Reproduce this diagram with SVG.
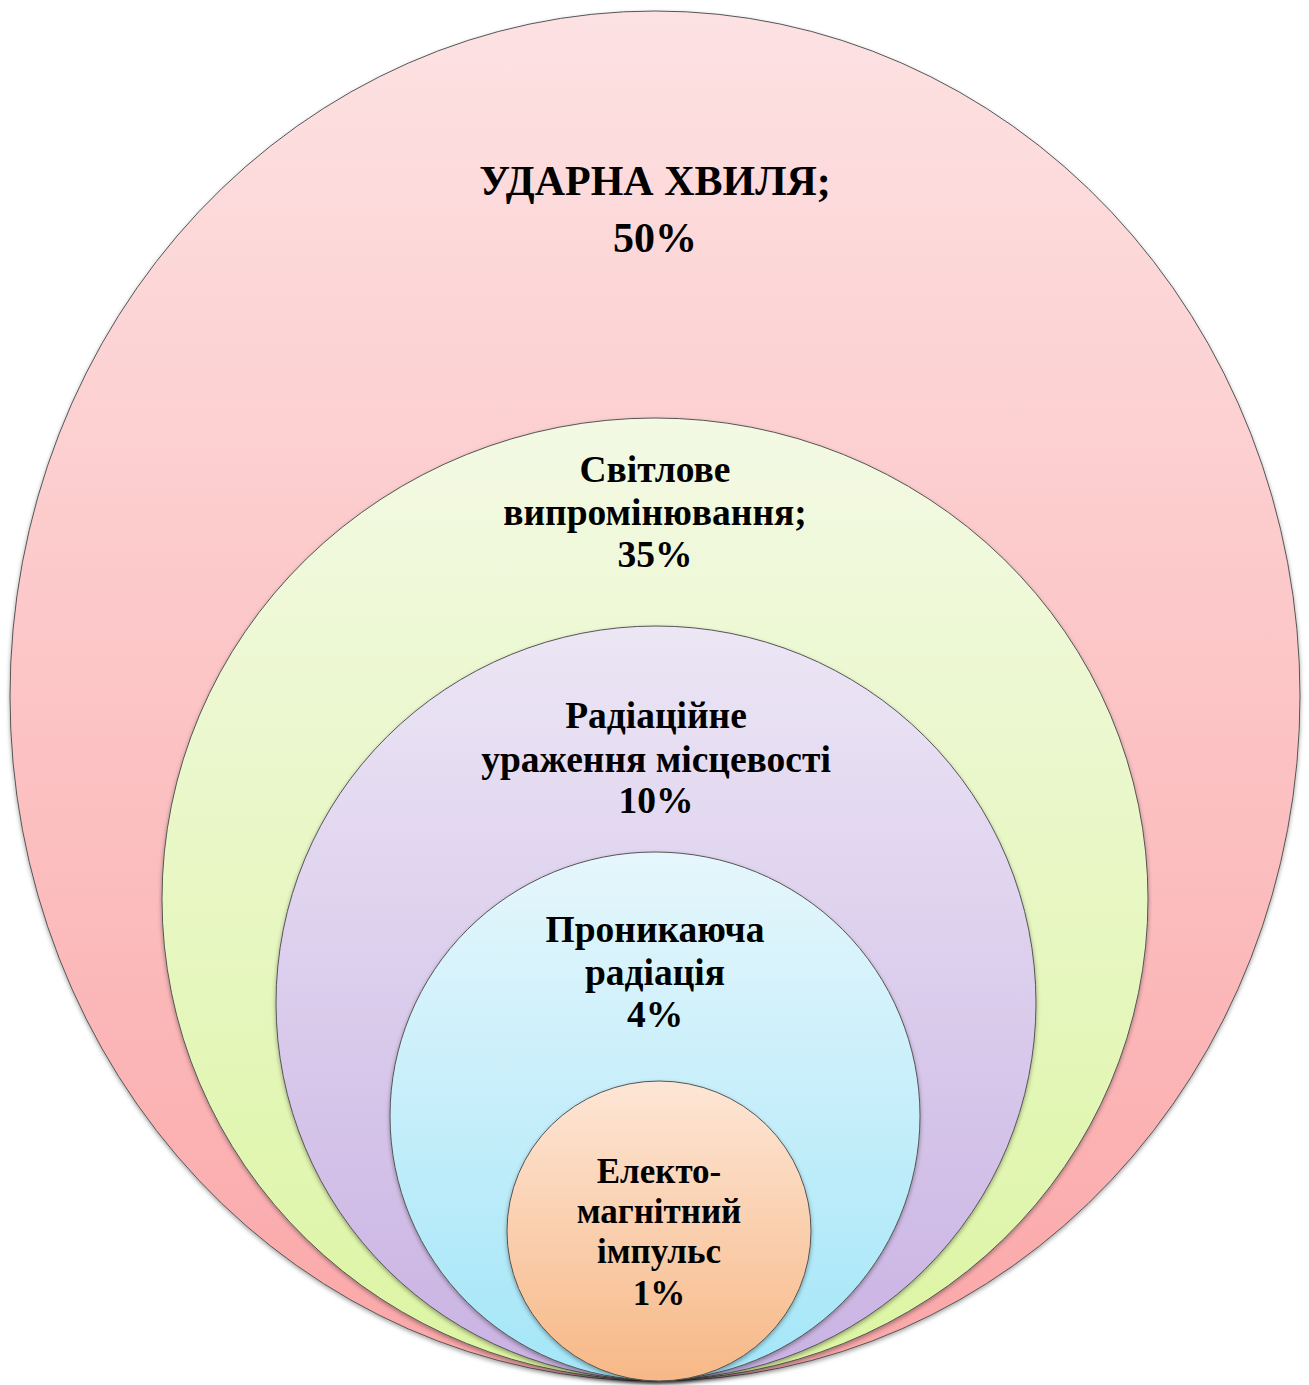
<svg xmlns="http://www.w3.org/2000/svg" width="1309" height="1385" viewBox="0 0 1309 1385">
<defs>
<linearGradient id="gPink" x1="0" y1="0" x2="0" y2="1"><stop offset="0" stop-color="#fde2e3"/><stop offset="1" stop-color="#fba7a8"/></linearGradient>
<linearGradient id="gGreen" x1="0" y1="0" x2="0" y2="1"><stop offset="0" stop-color="#f3f9e4"/><stop offset="1" stop-color="#dcf5a2"/></linearGradient>
<linearGradient id="gPurple" x1="0" y1="0" x2="0" y2="1"><stop offset="0" stop-color="#ece6f5"/><stop offset="1" stop-color="#c9b2e3"/></linearGradient>
<linearGradient id="gBlue" x1="0" y1="0" x2="0" y2="1"><stop offset="0" stop-color="#e6f6fc"/><stop offset="1" stop-color="#a3e6f8"/></linearGradient>
<linearGradient id="gOrange" x1="0" y1="0" x2="0" y2="1"><stop offset="0" stop-color="#fde6d6"/><stop offset="1" stop-color="#f7b886"/></linearGradient>
<filter id="sh" x="-5%" y="-5%" width="110%" height="110%"><feDropShadow dx="0" dy="2" stdDeviation="2" flood-color="#000" flood-opacity="0.35"/></filter>
</defs>
<style>
.e{stroke:#555;stroke-width:1;filter:url(#sh)}
text{font-family:"Liberation Serif","Times New Roman",serif;font-weight:bold;fill:#000;text-anchor:middle}
.t1{font-size:42px}
.t2{font-size:37.5px}
.t3{font-size:35px}
</style>
<rect width="1309" height="1385" fill="#fff"/>
<g id="n1"><ellipse class="e" cx="655" cy="696" rx="645" ry="685" fill="url(#gPink)"/>
<text class="t1" x="655" y="195">УДАРНА ХВИЛЯ;</text><text class="t1" x="655" y="252">50%</text></g>
<g id="n2"><ellipse class="e" cx="655" cy="899" rx="493" ry="481" fill="url(#gGreen)"/>
<text class="t2" x="655" y="482">Світлове</text><text class="t2" x="655" y="525">випромінювання;</text><text class="t2" x="655" y="567">35%</text></g>
<g id="n3"><ellipse class="e" cx="656" cy="1003" rx="380" ry="377" fill="url(#gPurple)"/>
<text class="t2" x="656" y="728">Радіаційне</text><text class="t2" x="656" y="772">ураження місцевості</text><text class="t2" x="656" y="813">10%</text></g>
<g id="n4"><ellipse class="e" cx="655" cy="1116" rx="265" ry="264" fill="url(#gBlue)"/>
<text class="t2" x="655" y="942">Проникаюча</text><text class="t2" x="655" y="985">радіація</text><text class="t2" x="655" y="1027">4%</text></g>
<g id="n5"><ellipse class="e" cx="659" cy="1231" rx="152" ry="150" fill="url(#gOrange)"/>
<text class="t3" x="659" y="1183">Електо-</text><text class="t3" x="659" y="1223">магнітний</text><text class="t3" x="659" y="1263">імпульс</text><text class="t3" x="659" y="1305">1%</text></g>
<g id="connectors"/>
</svg>
